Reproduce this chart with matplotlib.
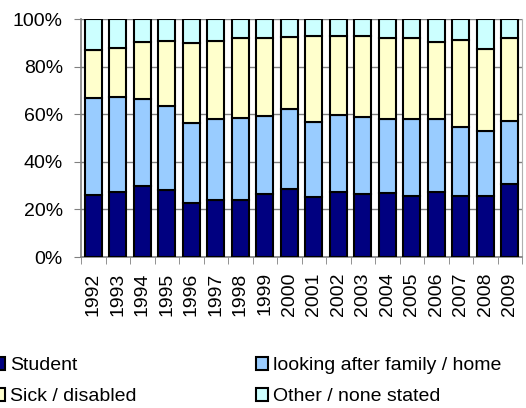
"""100% stacked bars: economic inactivity reasons by year, 1992-2009."""
import matplotlib
matplotlib.use("Agg")
import matplotlib.pyplot as plt
import numpy as np
from matplotlib.patches import Patch

plt.rcParams["font.family"] = ["Liberation Sans", "DejaVu Sans"]

years = ["1992", "1993", "1994", "1995", "1996", "1997", "1998", "1999", "2000",
         "2001", "2002", "2003", "2004", "2005", "2006", "2007", "2008", "2009"]
# segment shares in %
student = [26.0, 27.2, 29.8, 28.2, 22.5, 24.0, 24.0, 26.5, 28.6,
           25.4, 27.2, 26.5, 27.0, 25.6, 27.2, 25.6, 25.6, 30.7]
family = [40.7, 40.2, 36.6, 35.2, 33.7, 33.8, 34.4, 32.7, 33.4,
          31.5, 32.5, 32.5, 30.8, 32.4, 30.6, 29.2, 27.5, 26.6]
sick = [20.1, 20.3, 23.8, 27.5, 33.9, 33.0, 33.8, 33.0, 30.6,
        36.1, 33.2, 33.9, 34.1, 33.9, 32.7, 36.4, 34.4, 34.6]
other = [13.2, 12.3, 9.8, 9.1, 9.9, 9.2, 7.8, 7.8, 7.4,
         7.0, 7.1, 7.1, 8.1, 8.1, 9.5, 8.8, 12.5, 8.1]

series = [("Student", student, "#000080"),
          ("looking after family / home", family, "#99ccff"),
          ("Sick / disabled", sick, "#ffffcc"),
          ("Other / none stated", other, "#ccffff")]

FS = 14

fig = plt.figure(figsize=(5.26, 4.08), dpi=100)
ax = fig.add_axes([81 / 526, 1 - 257 / 408, 441 / 526, 238 / 408])

x = np.arange(len(years))
vals = np.array([s[1] for s in series])
tot = vals.sum(axis=0)
bottom = np.zeros(len(years))
for (name, v, col), row in zip(series, vals):
    pct = row / tot * 100
    ax.bar(x, pct, width=0.68, bottom=bottom, color=col,
           edgecolor="black", linewidth=1.5, zorder=3)
    bottom += pct

ax.set_xlim(-0.5, len(years) - 0.5)
ax.set_ylim(0, 100)
ax.set_yticks(np.arange(0, 101, 20))
ax.set_yticklabels([f"{v}%" for v in range(0, 101, 20)], fontsize=FS)
ax.yaxis.grid(True, color="#808080", linewidth=1, zorder=0)
ax.tick_params(axis="y", length=5, color="#808080", pad=8)

ax.set_xticks(x)
ax.set_xticklabels(years, rotation=90, fontsize=FS)
ax.tick_params(axis="x", length=0, pad=11)
ax.set_xticks(np.arange(-0.5, len(years)), minor=True)
ax.tick_params(axis="x", which="minor", length=5, color="#808080")

ax.spines["top"].set_visible(False)
ax.spines["right"].set_color("#b0b0b0")
for s in ("left", "bottom"):
    ax.spines[s].set_color("#808080")
    ax.spines[s].set_linewidth(1.2)

handles = [Patch(facecolor=c, edgecolor="black", linewidth=1.5, label=n)
           for n, _, c in series]
# order so that rows read Student | looking..., Sick | Other
fig.legend([handles[0], handles[2], handles[1], handles[3]],
           [series[0][0], series[2][0], series[1][0], series[3][0]],
           ncol=2, loc="upper left", bbox_to_anchor=(-7 / 526, 1 - 357 / 408),
           frameon=False, fontsize=FS, borderpad=0, borderaxespad=0,
           handlelength=0.62, handleheight=0.62, handletextpad=0.28,
           labelspacing=0.72, columnspacing=6.1)

fig.savefig("out.png", dpi=100, facecolor="white")
plt.close(fig)
